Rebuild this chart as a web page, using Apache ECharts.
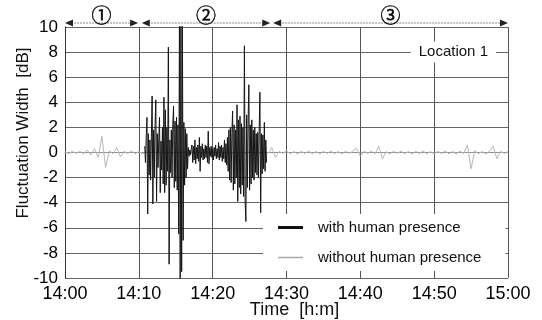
<!DOCTYPE html>
<html><head><meta charset="utf-8">
<script src="https://cdn.jsdelivr.net/npm/echarts@6/dist/echarts.min.js"></script>
<style>html,body{margin:0;padding:0;background:#fff}#c{width:542px;height:320px}</style>
</head><body><div id="c"></div>
<script>
const xTickLabels = ['14:00','14:10','14:20','14:30','14:40','14:50','15:00'];
const seriesNames = ['with human presence','without human presence'];
// dark series: minutes after 14:00, sampled every 0.1 min from 10.8
const darkStart = 10.8, darkStep = 0.1;
const darkValues = [
 0.5,-0.8,1.2,2.8,-4.9,1.5,-1.8,1.0,-2.2,1.3,
 4.5,-4.1,1.8,-2.0,2.3,4.2,-3.9,1.5,-1.2,1.0,
 2.8,-3.2,0.9,-1.4,2.0,-2.5,4.4,-3.2,3.4,-2.6,
 2.0,-1.5,8.4,-8.9,1.0,-1.6,1.8,-2.0,2.2,3.7,
 -2.8,2.5,-2.3,2.8,-3.0,2.2,-6.5,10.5,-10.5,10.5,
 -9.5,10.5,-7.0,2.4,-2.6,1.9,-2.0,1.5,-1.3,0.4,
 -0.3,0.2,-0.2,0.3,
 0.6,-0.8,0.5,-0.6,1.0,-0.9,0.4,-0.5,0.6,-0.7,
 1.2,-1.5,0.5,-0.4,0.7,-0.6,0.3,-0.5,0.6,-0.4,
 0.5,-0.8,1.7,-0.9,0.4,-0.3,0.5,-0.4,0.3,-0.6,
 0.4,-0.3,0.6,-0.5,0.3,-0.4,0.8,-0.6,0.5,-0.4,
 0.6,-0.7,0.4,-0.5,1.0,-0.8,0.7,-1.0,
 1.2,-1.5,1.8,-2.2,2.0,-2.4,1.5,3.3,-3.0,2.2,
 -2.5,1.8,-2.0,3.8,-3.9,2.6,-2.8,2.9,-3.3,2.3,
 -2.6,2.0,-3.5,8.5,-4.0,-5.5,3.0,-2.8,2.5,5.4,
 -3.0,2.2,-2.5,2.6,-2.0,1.8,-2.2,2.0,-1.6,1.5,
 -1.8,1.6,-2.0,1.8,4.8,-4.8,1.5,-1.7,1.4,-1.3,
 2.4,-1.5,1.0,-0.8
];
// light series: sampled every 0.5 min from 0
const lightStart = 0, lightStep = 0.5;
const lightValues = [
 0.08,-0.1,0.12,-0.08,0.1,-0.12,0.2,-0.2,0.3,-0.4,
 1.3,-1.2,0.15,-0.1,0.4,-0.35,0.1,-0.08,0.12,-0.1,
 0.1,-0.12,0.08,-0.1,0.12,-0.08,0.1,-0.12,0.08,-0.1,
 0.12,-0.08,0.1,-0.12,0.08,-0.1,0.12,-0.08,0.1,-0.12,
 0.08,-0.1,0.12,-0.08,0.1,-0.12,0.08,-0.1,0.12,-0.08,
 0.1,-0.12,0.08,-0.1,0.12,-0.08,0.4,-0.4,0.1,-0.08,
 0.12,-0.1,0.08,-0.12,0.1,-0.08,0.12,-0.1,0.08,-0.12,
 0.1,-0.08,0.12,-0.1,0.08,-0.12,0.1,-0.08,0.12,0.35,
 -0.3,0.1,-0.08,0.12,-0.1,0.5,-0.5,0.08,-0.12,0.1,
 -0.08,0.12,-0.1,0.08,-0.12,0.1,-0.08,0.12,-0.1,0.08,
 -0.12,0.1,-0.08,0.12,-0.1,0.08,-0.12,0.1,-0.08,0.6,
 -1.3,0.15,-0.1,0.08,-0.12,0.1,0.5,-0.5,0.1,-0.08,
 0.08
];
const phaseLabels = ['①','②','③'];
const phaseStart = [0, 10.4, 28.2];
const phaseEnd = [9.9, 27.8, 60];
const locationLabel = 'Location 1';
const locationPos = [52.6, 8];
const xTitle = 'Time  [h:m]';
const yTitle = 'Fluctuation Width  [dB]';

const FONT = '"Liberation Sans", Arial, sans-serif';
const darkData = darkValues.map((v,i)=>[+(darkStart+i*darkStep).toFixed(2), v]);
const lightData = lightValues.map((v,i)=>[+(lightStart+i*lightStep).toFixed(2), v]);

const chart = echarts.init(document.getElementById('c'), null, {renderer:'canvas'});
chart.setOption({
  animation:false,
  backgroundColor:'#fff',
  grid:{left:65,right:34,top:27,bottom:42},
  xAxis:{type:'value',min:0,max:60,interval:10,
    axisLine:{show:true,lineStyle:{color:'#999',type:'dotted'}},
    axisTick:{show:false},
    axisLabel:{fontFamily:FONT,fontSize:18,color:'#000',margin:7,
      formatter:v=>xTickLabels[Math.round(v/10)]},
    splitLine:{show:true,lineStyle:{color:'#555',width:1}}},
  yAxis:{type:'value',min:-10,max:10,interval:2,
    axisLine:{show:true,lineStyle:{color:'#333'}},
    axisTick:{show:false},
    axisLabel:{fontFamily:FONT,fontSize:17,color:'#000',margin:7},
    splitLine:{show:true,lineStyle:{color:'#666',width:1}}},
  legend:{orient:'vertical',left:263,top:214,backgroundColor:'#fff',z:5,
    padding:[6,24,6,15],itemGap:15,itemWidth:25,itemHeight:14,
    textStyle:{fontFamily:FONT,fontSize:15,color:'#111',padding:[0,0,0,10]},
    data:[{name:seriesNames[0],icon:'path://M0,0 H25 V3 H0 Z',itemStyle:{color:'#111'}},
          {name:seriesNames[1],icon:'path://M0,0 H25 V1.5 H0 Z',itemStyle:{color:'#aaa'}}]},
  series:[
    {name:seriesNames[1],type:'line',data:lightData,symbol:'none',clip:true,z:2,
     lineStyle:{color:'#b8b8b8',width:1},itemStyle:{color:'#aaa'}},
    {name:seriesNames[0],type:'line',data:darkData,symbol:'none',clip:true,z:3,
     lineStyle:{color:'#151515',width:1},itemStyle:{color:'#111'}}
  ]
});

const P = (x,y)=>chart.convertToPixel({gridIndex:0},[x,y]);
const yTop = P(0,10)[1];
const gr = [];
const ay = yTop-4;
for (let k=0;k<phaseLabels.length;k++){
  const x1 = P(phaseStart[k],0)[0], x2 = P(phaseEnd[k],0)[0];
  gr.push({type:'line',shape:{x1:x1+6,y1:ay,x2:x2-6,y2:ay},style:{stroke:'#888',lineWidth:1,lineDash:[2,1]},silent:true});
  gr.push({type:'polygon',shape:{points:[[x1,ay],[x1+8,ay-3.5],[x1+8,ay+3.5]]},style:{fill:'#222'},silent:true});
  gr.push({type:'polygon',shape:{points:[[x2,ay],[x2-8,ay-3.5],[x2-8,ay+3.5]]},style:{fill:'#222'},silent:true});
  gr.push({type:'text',x:(x1+x2)/2,y:yTop-12,style:{text:phaseLabels[k],fontSize:20,fontFamily:'"Noto Sans CJK JP", "DejaVu Sans", sans-serif',fill:'#000',stroke:'#000',lineWidth:0.4,align:'center',verticalAlign:'middle'},silent:true});
}
const lp = P(locationPos[0],locationPos[1]);
gr.push({type:'text',x:lp[0],y:lp[1],z:10,style:{text:locationLabel,fontSize:15,fontFamily:FONT,fill:'#111',align:'center',verticalAlign:'middle',backgroundColor:'#fff',padding:[3,8]},silent:true});
gr.push({type:'text',x:23.5,y:133,rotation:Math.PI/2,style:{text:yTitle,fontSize:17,fontFamily:FONT,fill:'#111',align:'center',verticalAlign:'middle'},silent:true});
gr.push({type:'text',x:294.5,y:310,style:{text:xTitle,fontSize:18,fontFamily:FONT,fill:'#111',align:'center',verticalAlign:'middle'},silent:true});
chart.setOption({graphic:gr});
</script></body></html>
